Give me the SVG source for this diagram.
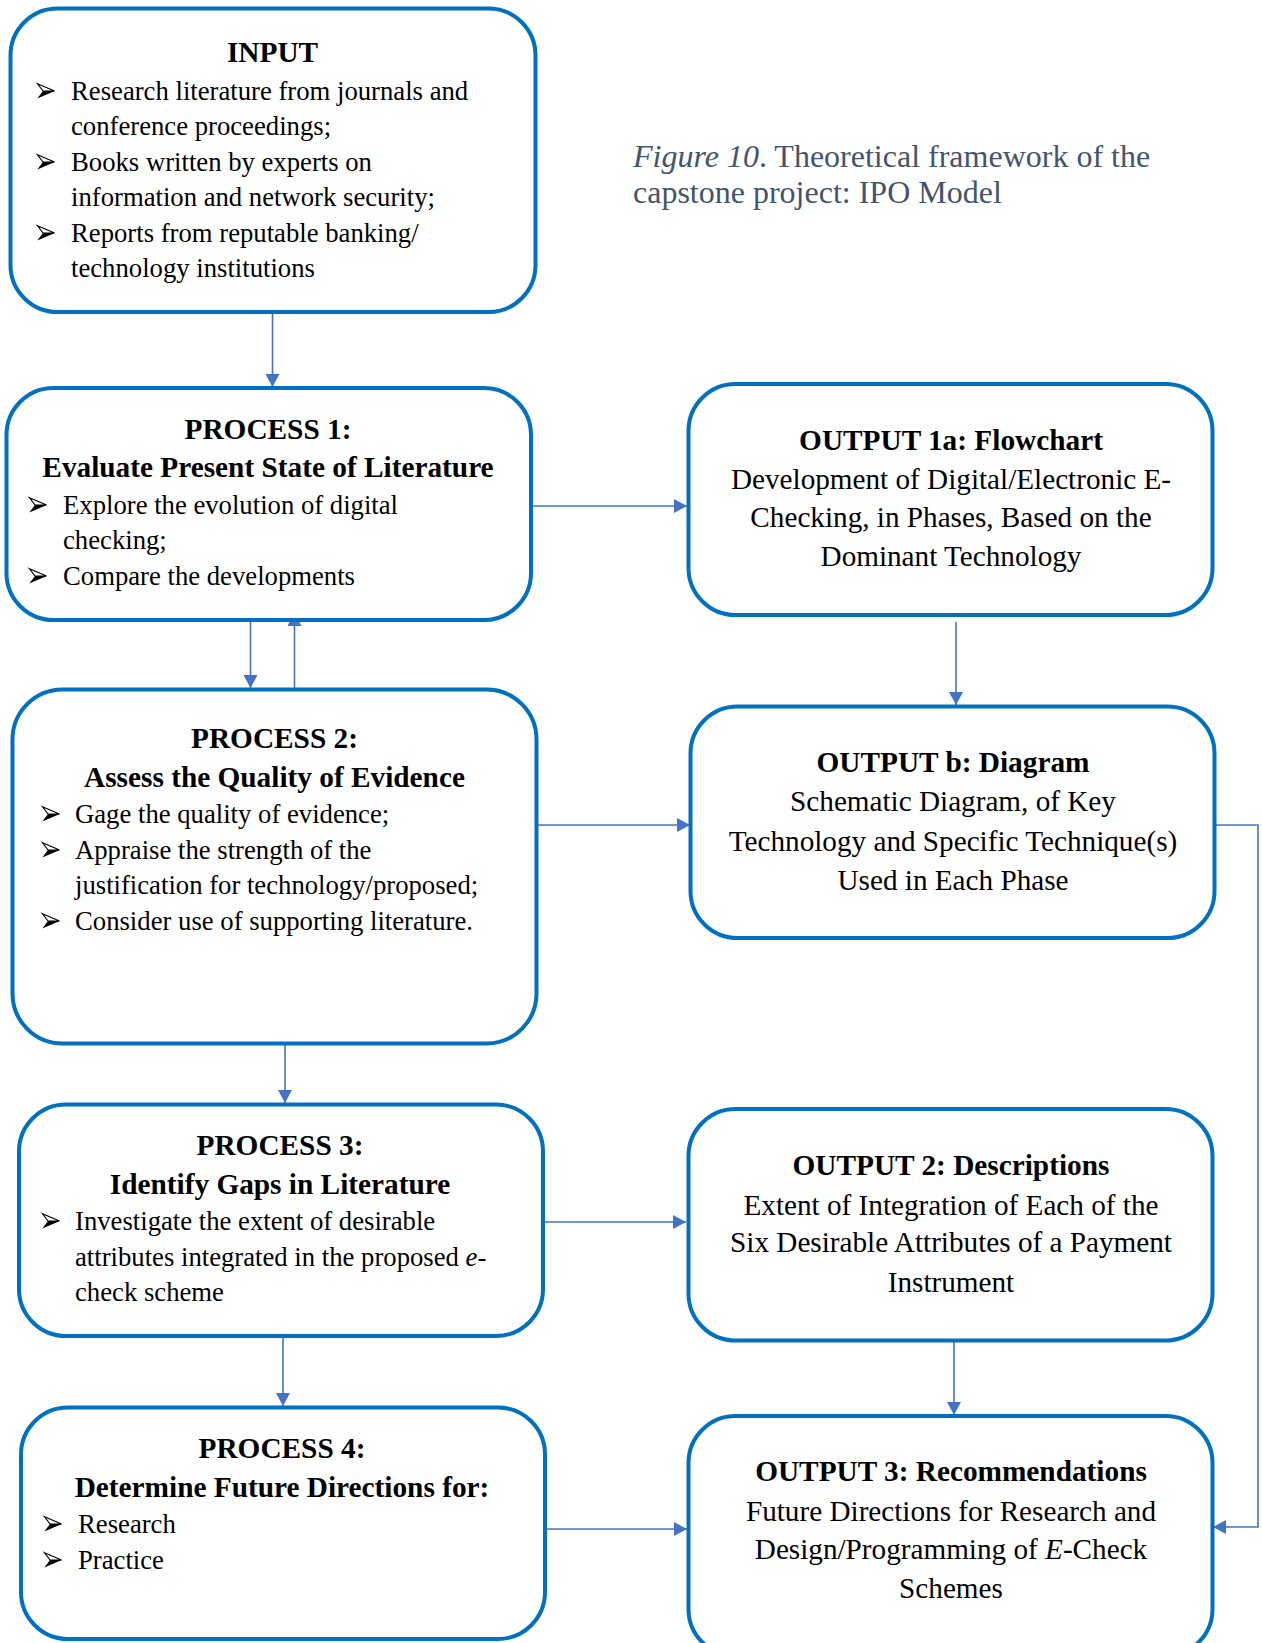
<svg xmlns="http://www.w3.org/2000/svg" width="1262" height="1643" viewBox="0 0 1262 1643">
  <style>
    .box { fill: #ffffff; stroke: #0070C0; stroke-width: 4; }
    .conn { fill: none; stroke: #4472C4; stroke-width: 1.6; }
    .t { font-family: "Liberation Serif", "Times New Roman", serif; fill: #000000; }
    .body { font-size: 26.7px; }
    .obody { font-size: 29.2px; text-anchor: middle; }
    .head { font-size: 29.3px; font-weight: bold; text-anchor: middle; }
    .cap { font-family: "Liberation Serif", "Times New Roman", serif; font-size: 32px; fill: #44546A; }
    .it { font-style: italic; }
  </style>
  <defs>
    <marker id="arrow" markerUnits="userSpaceOnUse" markerWidth="14" markerHeight="14" refX="13" refY="7" orient="auto">
      <path d="M0,0 L13,7 L0,14 z" fill="#4472C4"/>
    </marker>
    <!-- list bullet: 3-D arrowhead, light upper half, dark lower half -->
    <symbol id="bullet" viewBox="0 0 18 16" overflow="visible">
      <path d="M0.5,0.8 L17.5,8 L6,8 Z" fill="#ffffff" stroke="#000000" stroke-width="1.2" stroke-linejoin="miter"/>
      <path d="M6,8 L17.8,8 L0.3,15.5 Z" fill="#000000"/>
    </symbol>
  </defs>

  <!-- caption -->
  <text class="cap" x="633" y="167"><tspan class="it">Figure 10</tspan>. Theoretical framework of the</text>
  <text class="cap" x="633" y="203">capstone project: IPO Model</text>

  <!-- connectors -->
  <g id="connectors">
    <line class="conn" x1="272.5" y1="313" x2="272.5" y2="387" marker-end="url(#arrow)"/>
    <line class="conn" x1="533" y1="506" x2="687" y2="506" marker-end="url(#arrow)"/>
    <line class="conn" x1="250.5" y1="622" x2="250.5" y2="688" marker-end="url(#arrow)"/>
    <line class="conn" x1="294.5" y1="688" x2="294.5" y2="613" marker-end="url(#arrow)"/>
    <line class="conn" x1="956" y1="622" x2="956" y2="705" marker-end="url(#arrow)"/>
    <line class="conn" x1="538" y1="825" x2="690" y2="825" marker-end="url(#arrow)"/>
    <polyline class="conn" points="1216,825 1258,825 1258,1527 1213,1527" marker-end="url(#arrow)"/>
    <line class="conn" x1="285" y1="1044" x2="285" y2="1103" marker-end="url(#arrow)"/>
    <line class="conn" x1="545" y1="1222" x2="686" y2="1222" marker-end="url(#arrow)"/>
    <line class="conn" x1="283" y1="1337" x2="283" y2="1406" marker-end="url(#arrow)"/>
    <line class="conn" x1="954" y1="1341" x2="954" y2="1415" marker-end="url(#arrow)"/>
    <line class="conn" x1="542" y1="1529" x2="687" y2="1529" marker-end="url(#arrow)"/>
  </g>

  <!-- INPUT -->
  <g id="input">
    <rect class="box" x="10.5" y="8.5" width="525" height="303.5" rx="47"/>
    <text class="t head" x="272.5" y="62">INPUT</text>
    <use href="#bullet" x="37" y="83" width="18" height="16"/>
    <text class="t body" x="71" y="100">Research literature from journals and</text>
    <text class="t body" x="71" y="135">conference proceedings;</text>
    <use href="#bullet" x="37" y="154" width="18" height="16"/>
    <text class="t body" x="71" y="171">Books written by experts on</text>
    <text class="t body" x="71" y="206">information and network security;</text>
    <use href="#bullet" x="37" y="225" width="18" height="16"/>
    <text class="t body" x="71" y="242">Reports from reputable banking/</text>
    <text class="t body" x="71" y="277">technology institutions</text>
  </g>

  <!-- PROCESS 1 -->
  <g id="process1">
    <rect class="box" x="6.5" y="388" width="524.5" height="232" rx="47"/>
    <text class="t head" x="268" y="439">PROCESS 1:</text>
    <text class="t head" x="268" y="477">Evaluate Present State of Literature</text>
    <use href="#bullet" x="29" y="497" width="18" height="16"/>
    <text class="t body" x="63" y="514">Explore the evolution of digital</text>
    <text class="t body" x="63" y="549">checking;</text>
    <use href="#bullet" x="29" y="568" width="18" height="16"/>
    <text class="t body" x="63" y="585">Compare the developments</text>
  </g>

  <!-- OUTPUT 1a -->
  <g id="output1a">
    <rect class="box" x="688.5" y="384" width="524" height="231" rx="47"/>
    <text class="t head" x="951" y="450">OUTPUT 1a: Flowchart</text>
    <text class="t obody" x="951" y="489">Development of Digital/Electronic E-</text>
    <text class="t obody" x="951" y="527">Checking, in Phases, Based on the</text>
    <text class="t obody" x="951" y="566">Dominant Technology</text>
  </g>

  <!-- PROCESS 2 -->
  <g id="process2">
    <rect class="box" x="12.5" y="689.5" width="524" height="354" rx="50"/>
    <text class="t head" x="274.5" y="748">PROCESS 2:</text>
    <text class="t head" x="274.5" y="787">Assess the Quality of Evidence</text>
    <use href="#bullet" x="42" y="806" width="18" height="16"/>
    <text class="t body" x="75" y="823">Gage the quality of evidence;</text>
    <use href="#bullet" x="42" y="842" width="18" height="16"/>
    <text class="t body" x="75" y="859">Appraise the strength of the</text>
    <text class="t body" x="75" y="894">justification for technology/proposed;</text>
    <use href="#bullet" x="42" y="913" width="18" height="16"/>
    <text class="t body" x="75" y="930">Consider use of supporting literature.</text>
  </g>

  <!-- OUTPUT b -->
  <g id="outputb">
    <rect class="box" x="690.5" y="706.5" width="524" height="231.5" rx="47"/>
    <text class="t head" x="953" y="772">OUTPUT b: Diagram</text>
    <text class="t obody" x="953" y="811">Schematic Diagram, of Key</text>
    <text class="t obody" x="953" y="851">Technology and Specific Technique(s)</text>
    <text class="t obody" x="953" y="890">Used in Each Phase</text>
  </g>

  <!-- PROCESS 3 -->
  <g id="process3">
    <rect class="box" x="19" y="1104.5" width="524" height="231.5" rx="47"/>
    <text class="t head" x="280" y="1155">PROCESS 3:</text>
    <text class="t head" x="280" y="1194">Identify Gaps in Literature</text>
    <use href="#bullet" x="42" y="1213" width="18" height="16"/>
    <text class="t body" x="75" y="1230">Investigate the extent of desirable</text>
    <text class="t body" x="75" y="1266">attributes integrated in the proposed <tspan class="it">e</tspan>-</text>
    <text class="t body" x="75" y="1301">check scheme</text>
  </g>

  <!-- OUTPUT 2 -->
  <g id="output2">
    <rect class="box" x="688.5" y="1109" width="524" height="231.5" rx="47"/>
    <text class="t head" x="951" y="1175">OUTPUT 2: Descriptions</text>
    <text class="t obody" x="951" y="1215">Extent of Integration of Each of the</text>
    <text class="t obody" x="951" y="1252">Six Desirable Attributes of a Payment</text>
    <text class="t obody" x="951" y="1292">Instrument</text>
  </g>

  <!-- PROCESS 4 -->
  <g id="process4">
    <rect class="box" x="21" y="1407.5" width="524" height="231.5" rx="47"/>
    <text class="t head" x="282" y="1458">PROCESS 4:</text>
    <text class="t head" x="282" y="1497">Determine Future Directions for:</text>
    <use href="#bullet" x="44" y="1516" width="18" height="16"/>
    <text class="t body" x="78" y="1533">Research</text>
    <use href="#bullet" x="44" y="1552" width="18" height="16"/>
    <text class="t body" x="78" y="1569">Practice</text>
  </g>

  <!-- OUTPUT 3 -->
  <g id="output3">
    <rect class="box" x="688.5" y="1416" width="524" height="240" rx="47"/>
    <text class="t head" x="951" y="1481">OUTPUT 3: Recommendations</text>
    <text class="t obody" x="951" y="1521">Future Directions for Research and</text>
    <text class="t obody" x="951" y="1559">Design/Programming of <tspan class="it">E</tspan>-Check</text>
    <text class="t obody" x="951" y="1598">Schemes</text>
  </g>
</svg>
